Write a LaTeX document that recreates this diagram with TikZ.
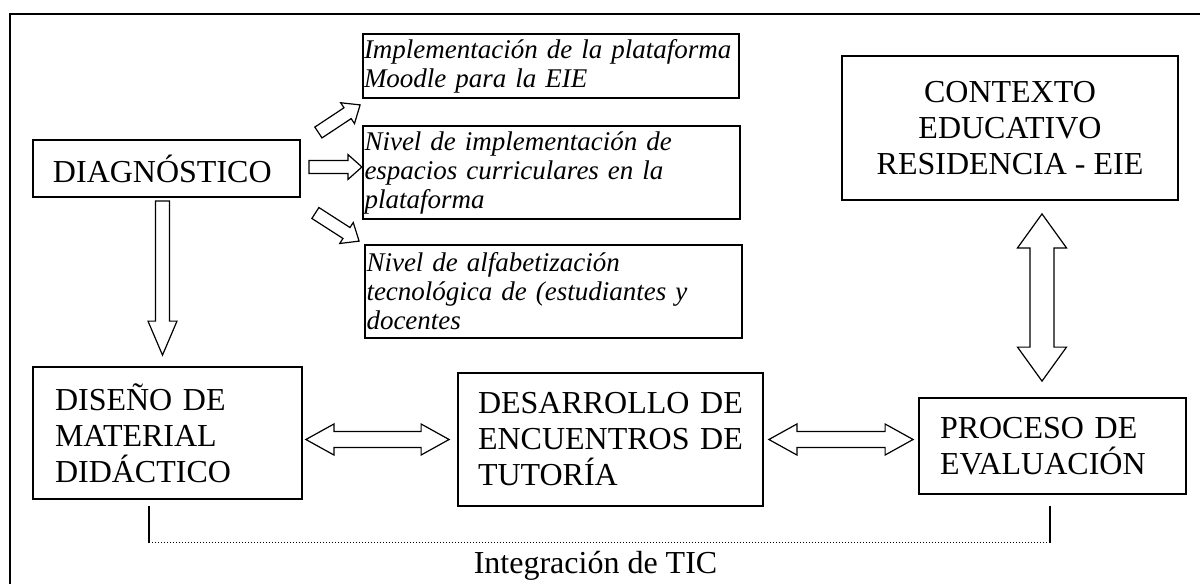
\documentclass[tikz,border=0pt]{standalone}
\usepackage{fontspec}
\setmainfont{Liberation Serif}
\usetikzlibrary{calc}

\newcommand{\rmbig}{\fontsize{16pt}{18pt}\selectfont}
\newcommand{\itsmall}{\fontsize{13.5pt}{14.5pt}\selectfont\itshape}

% hollow block arrow: from, to, shaft half width, head half width, head length
\newcommand{\blockarrow}[5]{%
  \coordinate (hb) at ($(#2)!#5!(#1)$);
  \draw[arrowline] ($(#1)!#3!90:(#2)$) -- ($(hb)!#3!-90:(#1)$) -- ($(hb)!#4!-90:(#1)$)
    -- (#2) -- ($(hb)!#4!90:(#1)$) -- ($(hb)!#3!90:(#1)$) -- ($(#1)!#3!-90:(#2)$) -- cycle;
}
% hollow double block arrow
\newcommand{\twoarrow}[5]{%
  \coordinate (ha) at ($(#1)!#5!(#2)$);
  \coordinate (hb) at ($(#2)!#5!(#1)$);
  \draw[arrowline] (#1) -- ($(ha)!#4!90:(#2)$) -- ($(ha)!#3!90:(#2)$) -- ($(hb)!#3!-90:(#1)$)
    -- ($(hb)!#4!-90:(#1)$) -- (#2) -- ($(hb)!#4!90:(#1)$) -- ($(hb)!#3!90:(#1)$)
    -- ($(ha)!#3!-90:(#2)$) -- ($(ha)!#4!-90:(#2)$) -- cycle;
}

\begin{document}
\begin{tikzpicture}[x=0.5pt,y=-0.5pt,
    box/.style={draw,line width=0.9pt,inner sep=0pt,align=left,font=\rmbig},
    itbox/.style={draw,line width=0.9pt,inner sep=0pt,align=left,font=\itsmall},
    arrowline/.style={draw,line width=0.6pt,fill=white}]
  \useasboundingbox (0,0) rectangle (1200,584);
  \draw[line width=1pt] (1200,14) -- (10,14) -- (10,584);

  % boxes
  \node[box,minimum width=133.5pt,minimum height=28.5pt,text width=113.5pt]
    (diag) at (166.5,168.5) {DIAGNÓSTICO};
  \node[itbox,minimum width=188pt,minimum height=32pt,text width=187pt]
    (moodle) at (551,66) {Implementación de la plataforma\\Moodle para la EIE};
  \node[itbox,minimum width=188.5pt,minimum height=46.5pt,text width=187pt]
    (espacios) at (551.5,172.5) {Nivel de implementación de\\espacios curriculares en la\\plataforma};
  \node[itbox,minimum width=188.5pt,minimum height=46.5pt,text width=187pt]
    (alfab) at (553.5,291.5) {Nivel de alfabetización\\tecnológica de (estudiantes y\\docentes};
  \node[box,align=center,minimum width=168pt,minimum height=72pt]
    (ctx) at (1010,128) {CONTEXTO\\EDUCATIVO\\RESIDENCIA - EIE};
  \node[box,minimum width=134.5pt,minimum height=66pt,text width=112.5pt]
    (dis) at (167.5,433) {DISEÑO DE\\MATERIAL\\DIDÁCTICO};
  \node[box,minimum width=152.5pt,minimum height=66.5pt,text width=132.5pt]
    (des) at (610.5,439.5) {DESARROLLO DE\\ENCUENTROS DE\\TUTORÍA};
  \node[box,minimum width=133.5pt,minimum height=48pt,text width=112.5pt]
    (proc) at (1052.5,446) {PROCESO DE\\EVALUACIÓN};

  % arrow ends
  \coordinate (d0) at ($(diag.south)+(-4,3)$);
  \coordinate (d1) at ($(dis.north)+(-5,-11)$);
  \coordinate (a0) at ($(diag.east)+(17.5,-36)$);
  \coordinate (a1) at ($(moodle.south west)+(-2,6)$);
  \coordinate (b0) at ($(diag.east)+(8,-1.5)$);
  \coordinate (b1) at ($(b0)+(53,0)$);
  \coordinate (c0) at ($(diag.east)+(14.5,44.5)$);
  \coordinate (c1) at ($(alfab.north west)+(-5,-3)$);
  \coordinate (e0) at ($(dis.east |- des.west)+(3,0)$);
  \coordinate (e1) at ($(des.west)+(-8,0)$);
  \coordinate (f0) at ($(des.east)+(5,0)$);
  \coordinate (f1) at ($(des.east -| proc.west)+(-5,0)$);
  \coordinate (g0) at ($(ctx.south)+(32,13)$);
  \coordinate (g1) at ($(proc.north)+(-10.5,-16)$);

  % arrows
  \blockarrow{d0}{d1}{3.5pt}{7.25pt}{17pt}
  \blockarrow{a0}{a1}{3.25pt}{6.25pt}{7.5pt}
  \blockarrow{b0}{b1}{3.25pt}{6.25pt}{7pt}
  \blockarrow{c0}{c1}{3.25pt}{6.25pt}{7.5pt}
  \twoarrow{e0}{e1}{4pt}{7.75pt}{14pt}
  \twoarrow{f0}{f1}{4pt}{7.75pt}{14pt}
  \twoarrow{g0}{g1}{6pt}{12.25pt}{17pt}

  % bracket
  \coordinate (bl) at ($(dis.south)+(-18.5,6)$);
  \coordinate (br) at ($(proc.south)+(-2.5,11)$);
  \coordinate (bl2) at ($(bl)+(0,37)$);
  \coordinate (br2) at (bl2 -| br);
  \draw[line width=0.6pt] (bl) -- (bl2);
  \draw[line width=0.5pt,densely dotted] (bl2) -- (br2);
  \draw[line width=0.6pt] (br) -- (br2);
  \node[anchor=base,font=\rmbig,inner sep=0pt] (tic) at ($(bl2)!0.5!(br2)+(-4,31)$) {Integración de TIC};
\end{tikzpicture}
\end{document}
